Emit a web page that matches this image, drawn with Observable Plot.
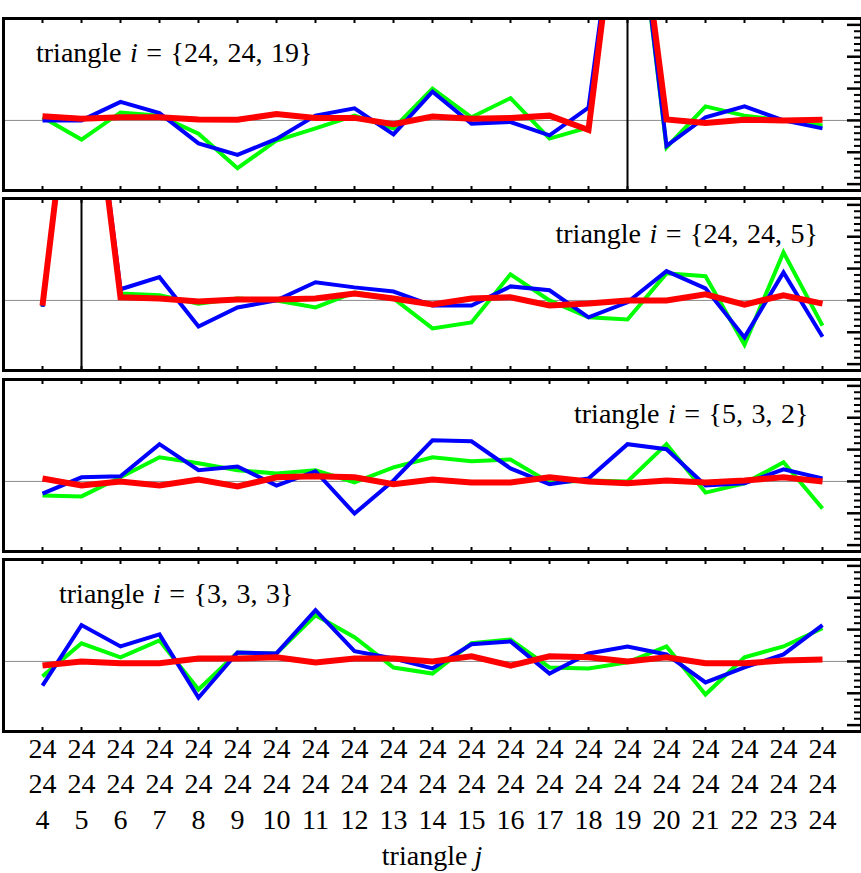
<!DOCTYPE html>
<html>
<head>
<meta charset="utf-8">
<script src="https://cdn.jsdelivr.net/npm/d3@7"></script>
<script src="https://cdn.jsdelivr.net/npm/@observablehq/plot@0.6"></script>
<style>
  body { margin: 0; background: #fff; }
  #chart { position: relative; width: 861px; height: 873px; overflow: hidden; }
  #chart svg { position: absolute; left: 0; }
</style>
</head>
<body>
<div id="chart"></div>
<script>
// triangle j = {24, 24, j}
const jValues = [4,5,6,7,8,9,10,11,12,13,14,15,16,17,18,19,20,21,22,23,24];
const tickRow1 = "24";
const tickRow2 = "24";
const xTitle = "triangle ";
const xTitleItalic = "j";

// panel labels (triangle i)
const panelSets = ["{24, 24, 19}", "{24, 24, 5}", "{5, 3, 2}", "{3, 3, 3}"];
// diagonal (i = j) markers
const diagJ = [19, 5, null, null];

// values in units of the right-hand major tick spacing
const green1 = [0.1,-0.6,0.25,0.15,-0.42,-1.5,-0.63,-0.25,0.15,-0.25,1.0,0.1,0.7,-0.57,-0.22,9.4,-0.85,0.44,0.15,0,-0.16];
const blue1  = [0,0,0.58,0.23,-0.72,-1.08,-0.58,0.15,0.38,-0.44,0.9,-0.1,-0.05,-0.47,0.4,9.5,-0.8,0.1,0.44,0,-0.25];
const red1   = [0.13,0.05,0.1,0.1,0.03,0.02,0.2,0.08,0.08,-0.12,0.12,0.05,0.08,0.15,-0.3,9.5,0.03,-0.08,0.02,0,0.02];

const green2 = [-0.2,10,0.22,0.16,-0.1,0.06,0,-0.22,0.25,0.06,-0.88,-0.69,0.82,0,-0.53,-0.6,0.85,0.76,-1.39,1.51,-0.79];
const blue2  = [-0.2,10,0.35,0.73,-0.82,-0.22,0,0.57,0.41,0.28,-0.16,-0.16,0.44,0.32,-0.53,-0.06,0.92,0.38,-1.16,0.88,-1.14];
const red2   = [-0.16,10,0.1,0.06,-0.03,0.03,0.03,0.06,0.22,0.06,-0.13,0.06,0.1,-0.16,-0.1,0,0,0.19,-0.13,0.16,-0.1];

const green3 = [-0.44,-0.47,0.13,0.76,0.57,0.35,0.25,0.35,-0.03,0.44,0.76,0.63,0.69,-0.03,0.03,0,1.17,-0.35,-0.06,0.6,-0.85];
const blue3  = [-0.38,0.13,0.16,1.17,0.35,0.47,-0.13,0.32,-1.01,0.03,1.29,1.26,0.41,-0.09,0.09,1.17,1.01,-0.13,-0.06,0.38,0.09];
const red3   = [0.09,-0.13,0,-0.13,0.06,-0.16,0.13,0.16,0.13,-0.09,0.06,-0.03,-0.03,0.13,0,-0.06,0.03,-0.03,0.03,0.13,0];

const green4 = [-0.47,0.57,0.13,0.66,-0.88,0.28,0.25,1.45,0.76,-0.19,-0.38,0.57,0.69,-0.19,-0.22,-0.03,0.47,-1.04,0.13,0.47,1.04];
const blue4  = [-0.76,1.14,0.47,0.85,-1.14,0.28,0.25,1.61,0.32,0.09,-0.22,0.54,0.63,-0.38,0.25,0.47,0.22,-0.66,-0.19,0.22,1.14];
const red4   = [-0.13,0,-0.06,-0.06,0.09,0.09,0.13,-0.03,0.09,0.09,0,0.16,-0.13,0.16,0.13,0,0.13,-0.06,-0.06,0.03,0.06];

const greens = [green1, green2, green3, green4];
const blues  = [blue1, blue2, blue3, blue4];
const reds   = [red1, red2, red3, red4];

const majorTicks = [-2,-1,0,1,2,3];
const minorTicks = d3.range(-22, 33, 2).map(d => d / 10).filter(d => !majorTicks.includes(d));

const panelTops = [16, 196, 377, 557];
const FONT = "Liberation Serif, Times New Roman, serif";

const chart = document.getElementById("chart");

function toRows(arr) { return arr.map((v, k) => ({j: jValues[k], v})); }

const lineStyle = {x: "j", y: "v", clip: true, strokeLinejoin: "miter", strokeLinecap: "butt", strokeMiterlimit: 4};

panelTops.forEach((top, idx) => {
  const last = idx === panelTops.length - 1;
  const marks = [
    Plot.ruleY([0], {stroke: "#8c8c8c", strokeWidth: 1})
  ];
  if (diagJ[idx] != null) marks.push(Plot.ruleX([diagJ[idx]], {stroke: "black", strokeWidth: 2}));
  marks.push(
    Plot.line(toRows(greens[idx]), {...lineStyle, stroke: "#00ff00", strokeWidth: 4}),
    Plot.line(toRows(blues[idx]), {...lineStyle, stroke: "#0000ff", strokeWidth: 4}),
    Plot.line(toRows(reds[idx]), {...lineStyle, stroke: "#ff0000", strokeWidth: 6}),
    Plot.axisX({anchor: "top", ticks: jValues, tickSize: -4, tickFormat: () => "", strokeWidth: 2, label: null}),
    Plot.axisX({anchor: "bottom", ticks: jValues, tickSize: -4, tickFormat: () => "", strokeWidth: 2, label: null}),
    Plot.axisY({anchor: "right", ticks: majorTicks, tickSize: -15, tickFormat: () => "", strokeWidth: 2.5, label: null}),
    Plot.axisY({anchor: "right", ticks: minorTicks, tickSize: -8, tickFormat: () => "", strokeWidth: 2, label: null}),
    Plot.frame({stroke: "black", strokeWidth: 3})
  );
  if (last) {
    marks.push(Plot.text(jValues, {
      x: d => d,
      text: d => `${tickRow1}\n${tickRow2}\n${d}`,
      frameAnchor: "bottom",
      lineAnchor: "top",
      dy: 1,
      lineHeight: 1.27,
      fontSize: 28,
      fontFamily: FONT,
      fill: "black"
    }));
  }
  const svg = Plot.plot({
    width: 861,
    height: last ? 316 : 176,
    marginTop: 2,
    marginBottom: last ? 142 : 2,
    marginLeft: 3,
    marginRight: 0,
    x: {domain: [3, 25]},
    y: {domain: [-2.2, 3.2]},
    style: {fontFamily: FONT, background: "transparent", overflow: "visible"},
    marks
  });
  svg.style.top = top + "px";
  chart.appendChild(svg);
});

// overlay text labels (with italic variables)
const labelPos = [
  {x: 36, y: 62, anchor: "start"},
  {x: 818, y: 243, anchor: "end"},
  {x: 574, y: 423, anchor: "start"},
  {x: 59, y: 603, anchor: "start"}
];
const overlay = d3.create("svg")
  .attr("width", 861).attr("height", 873)
  .style("top", "0px").style("pointer-events", "none")
  .style("font-family", FONT).style("font-size", "28px");
panelSets.forEach((s, k) => {
  const t = overlay.append("text")
    .attr("x", labelPos[k].x).attr("y", labelPos[k].y)
    .attr("text-anchor", labelPos[k].anchor)
    .style("word-spacing", "1.5px");
  t.append("tspan").text("triangle ");
  t.append("tspan").style("font-style", "italic").text("i");
  t.append("tspan").text(" = " + s);
});
const xt = overlay.append("text").attr("x", 432).attr("y", 865).attr("text-anchor", "middle");
xt.append("tspan").text(xTitle);
xt.append("tspan").style("font-style", "italic").text(xTitleItalic);
chart.appendChild(overlay.node());
</script>
</body>
</html>
